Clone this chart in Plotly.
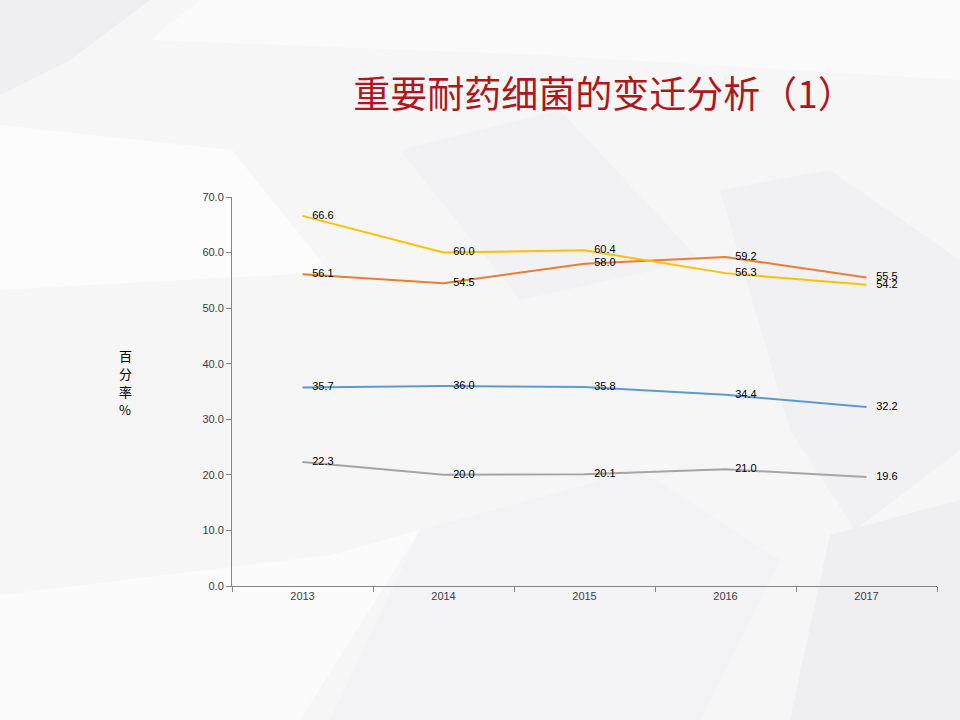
import plotly.graph_objects as go

# data
years = ["2013", "2014", "2015", "2016", "2017"]
series_names = ["系列1", "系列2", "系列3", "系列4"]
blue_vals = [35.7, 36.0, 35.8, 34.4, 32.2]
orange_vals = [56.1, 54.5, 58.0, 59.2, 55.5]
gray_vals = [22.3, 20.0, 20.1, 21.0, 19.6]
yellow_vals = [66.6, 60.0, 60.4, 56.3, 54.2]
y_ticks = [0, 10, 20, 30, 40, 50, 60, 70]
y_title_chars = ["百", "分", "率", "%"]

colors = ["#5B9BD5", "#ED7D31", "#A5A5A5", "#FFC000"]
all_vals = [blue_vals, orange_vals, gray_vals, yellow_vals]

W, H = 960, 720
L, R, T, B = 232, 23, 197, 134


def to_paper(x, y):
    return (x - L) / (W - L - R), (H - B - y) / (H - T - B)


def px(pts):
    # pixel coords -> paper coords (background decoration only)
    out = [to_paper(x, y) for x, y in pts]
    return "M " + " L ".join(f"{a:.4f},{b:.4f}" for a, b in out) + " Z"


bg_polys = [
    ([(0, 0), (150, 0), (70, 60), (0, 95)], "#EFEFF1"),
    ([(0, 290), (330, 272), (232, 150), (0, 125)], "#FCFCFC"),
    ([(150, 40), (540, 55), (960, 80), (960, 0), (200, 0)], "#FAFAFB"),
    ([(400, 150), (560, 110), (700, 260), (520, 300)], "#F2F2F4"),
    ([(720, 190), (830, 170), (960, 260), (960, 450), (855, 530), (790, 430)], "#F1F1F3"),
    ([(0, 595), (330, 555), (420, 530), (300, 720), (0, 720)], "#FBFBFC"),
    ([(830, 535), (960, 500), (960, 720), (790, 720)], "#EFEFF1"),
    ([(420, 530), (640, 470), (780, 560), (700, 720), (330, 720)], "#F3F3F5"),
]

fig = go.Figure()
for name, vals, c in zip(series_names, all_vals, colors):
    fig.add_trace(go.Scatter(
        x=years, y=vals, name=name, mode="lines+markers+text",
        line=dict(color=c, width=2),
        marker=dict(size=14, color="rgba(0,0,0,0)"),
        text=[f"{v:.1f}" for v in vals],
        textposition="middle right",
        textfont=dict(family="Liberation Sans, Arial", size=11, color="#000000"),
        cliponaxis=False,
    ))

shapes = []
for path, col in bg_polys:
    shapes.append(dict(type="path", path=px(path), xref="paper", yref="paper",
                       fillcolor=col, line=dict(width=0), layer="below"))

# vertical y-axis title, one character per line
annotations = []
for i, ch in enumerate(y_title_chars):
    ax, ay = to_paper(125, 355 + i * 18)
    annotations.append(dict(
        text=ch, xref="paper", yref="paper", x=ax, y=ay,
        showarrow=False, xanchor="center", yanchor="middle",
        font=dict(family="Noto Sans CJK SC", size=13, color="#000000"),
    ))

fig.update_layout(
    width=W, height=H,
    margin=dict(l=L, r=R, t=T, b=B),
    paper_bgcolor="#F6F6F7",
    plot_bgcolor="rgba(0,0,0,0)",
    showlegend=False,
    shapes=shapes,
    annotations=annotations,
    title=dict(
        text="重要耐药细菌的变迁分析（1）",
        x=604 / W, xanchor="center", y=1 - 95 / H, yanchor="middle",
        font=dict(family="Noto Sans CJK SC", size=37, color="#B0161C"),
    ),
)

fig.update_xaxes(
    type="category", range=[-0.5, 4.5], tickson="boundaries",
    ticks="outside", ticklen=5, tickcolor="#868686",
    showline=True, linecolor="#868686", linewidth=1,
    showgrid=False, zeroline=False,
    tickfont=dict(family="Liberation Sans, Arial", size=11, color="#404040"),
)
fig.update_yaxes(
    range=[0, 70], tickvals=y_ticks, tickformat=".1f",
    ticks="outside", ticklen=5, tickcolor="#868686",
    showline=True, linecolor="#868686", linewidth=1,
    showgrid=False, zeroline=False,
    tickfont=dict(family="Liberation Sans, Arial", size=11, color="#404040"),
)

fig.write_html("out.html", config={"displayModeBar": False},
               post_script="document.body.style.margin='0';")
